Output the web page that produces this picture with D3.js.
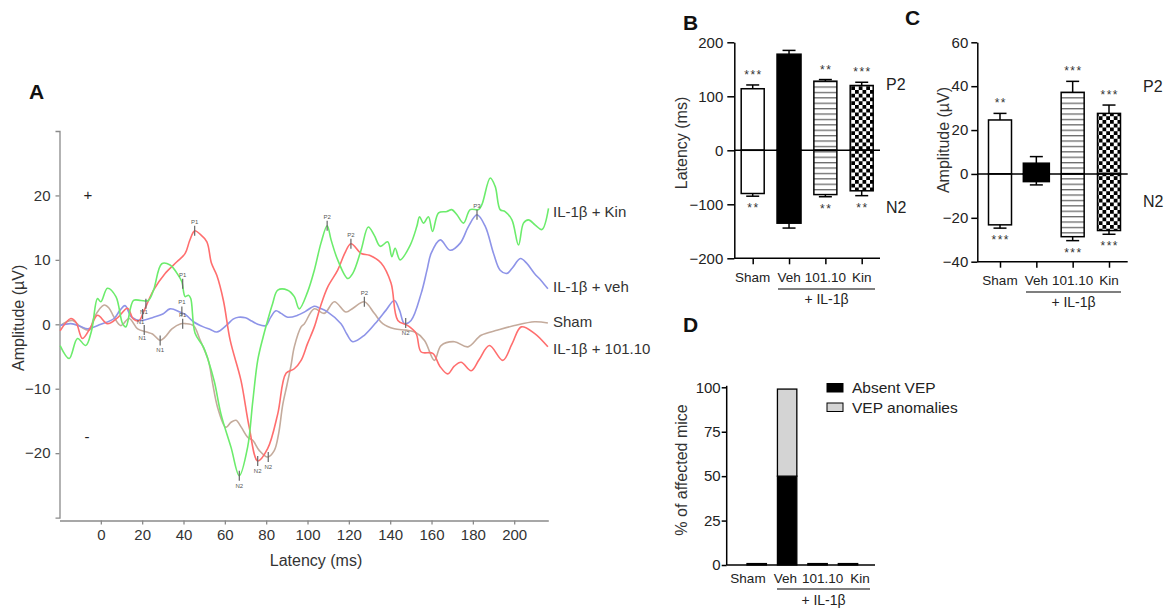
<!DOCTYPE html>
<html><head><meta charset="utf-8">
<script src="https://cdn.jsdelivr.net/npm/d3@7"></script>
<style>body{margin:0;background:#fff} svg{display:block;font-family:"Liberation Sans",Arial,sans-serif}</style>
</head><body><svg id="c" width="1167" height="614"></svg>
<script>
// ---------- Panel A data: VEP traces [latency ms, amplitude µV] ----------
const traceKin = [[-19.7,-3.3],[-15.3,-5.3],[-11.3,-2.2],[-7.3,-3.3],[-4.5,-1],[-1.6,4],[0,3.5],[3.2,5.6],[7.3,4.3],[10.5,0.1],[12.1,-0.4],[15.8,3.7],[19.4,3.7],[23,3.7],[25.5,5.3],[29.5,9.4],[33.5,9.2],[37.5,7.6],[39.2,6.6],[40.8,4.3],[42.4,4.5],[43.5,4],[45.6,-1.4],[49.6,-3.5],[52,-5.6],[55,-9],[58.1,-13.9],[63,-19.1],[67,-23.5],[71,-19.1],[73.5,-12],[75.9,-5.6],[78.5,-2],[80.7,0.6],[83.1,3.2],[85.6,5.3],[90.4,5.3],[93.6,4.3],[96,2.4],[100,5],[103.3,8.4],[106.5,12.6],[109.5,15.3],[111.4,13.1],[114.6,10],[119.5,7.1],[121.9,7.9],[125.9,11.5],[129.4,15.1],[132.3,13.8],[135.2,12.1],[138.8,12.8],[140.8,10.5],[142.4,11.8],[144.8,10],[149.7,12.3],[152.9,15.2],[154.2,16.7],[156.1,15.7],[158.5,16.7],[160.5,14.4],[163.4,17.3],[167.4,17.5],[169.8,17.8],[172.3,17],[175.5,15.7],[178.7,17.8],[182.7,17.8],[184.4,18.6],[188.4,22.7],[190.8,21.4],[193.2,17.8],[195.6,17.5],[198.9,16.2],[202.1,12.3],[204.5,15.7],[206.9,16.2],[210.2,15.4],[213.4,14.7],[216.6,18]];
const traceVeh = [[-19.7,-0.2],[-14.5,0.1],[-10,-0.3],[-6.4,-0.7],[0,0],[6.4,0.9],[9.3,2.2],[11.7,2.9],[14.9,1.1],[19,0.6],[25.5,1.1],[30,1.6],[33.5,2.4],[38.3,1.9],[41,1.5],[44.8,0.4],[49.6,-0.4],[53,-0.8],[56.1,-1.2],[61,-0.1],[64,0.8],[66.6,1.1],[70,1],[73,0.5],[75.9,0],[79.9,-0.2],[82,1],[84.7,2.1],[87.2,1.7],[90.4,1.1],[95.2,1.4],[99,2],[103.3,2.8],[106,2.5],[109.8,1.9],[116.2,0.1],[119,-1.5],[121.9,-2.7],[127.5,-1.7],[134,0.6],[138,2.2],[142,3.7],[144.5,2.2],[146.9,0.1],[150.1,0.6],[155,4.8],[157.8,8.4],[159.8,11],[164.2,13.1],[169,11.5],[173.9,12.6],[177.9,15.2],[182,17],[186,15.2],[190,11],[193.2,8.4],[196.5,7.9],[199,8.7],[203,10.2],[206,9.5],[209.8,7.9],[213,6.8],[216.3,5.5]];
const traceSham = [[-19.7,-0.2],[-13.7,0.6],[-9.7,-0.4],[-5.6,-0.9],[-3.2,1.1],[1.6,3],[4,2.5],[6.4,1.1],[9.7,-0.2],[13.7,0.9],[17.8,-0.7],[22.2,-1.2],[25,-1.5],[28.7,-2.5],[31,-2],[34.4,-0.7],[38.7,0.1],[40.8,0.1],[44.8,-0.2],[48.1,-2.5],[52,-5.6],[54,-9],[56.5,-12.9],[60.5,-16],[63,-15.2],[65.4,-14.9],[68,-16],[71,-17.5],[73.5,-18],[76.7,-19.6],[80.7,-20.6],[83.9,-19.6],[86,-17],[88,-12.5],[90,-9.5],[92,-6.4],[93.6,-3.5],[96.9,-0.4],[98.5,0.1],[103.3,2.4],[108.1,1.7],[113,3.5],[118.6,1.9],[122,2.5],[127.5,3.5],[132.3,1.7],[136.4,0.1],[142,-0.7],[147.7,-0.9],[152,-1.2],[156.6,-2.5],[161.4,-5.6],[164.6,-3.3],[171.1,-2.7],[177.6,-3.5],[184,-1.7],[192.1,-0.9],[200.1,-0.2],[209.8,0.4],[216.3,0.2]];
const trace101 = [[-19.7,-1],[-14.5,0.9],[-12,0.3],[-8.9,-2.2],[-5,-0.5],[-1.6,1.4],[3.2,0.1],[8,1],[12.9,2.5],[15.8,0.8],[18.6,0.6],[20.6,1.9],[25.5,5.3],[31.1,7.9],[36.8,9.7],[40.8,11],[43,13],[45.4,14.5],[48,14],[51.3,12.8],[53.5,9.5],[56.1,7.6],[59.3,3.7],[62.6,-2.5],[67.8,-8.7],[71.8,-16],[75.9,-21.2],[80.7,-19.3],[85.6,-13.9],[89.6,-7.6],[93.6,-6.9],[96.9,-5.6],[100,-3],[103.3,-0.4],[106.5,3],[109.8,5.8],[114.6,8.4],[118,11],[121,12.5],[126,11],[130,10.7],[135.6,9.5],[140.4,6.4],[143.7,0.6],[148.5,-0.2],[152.5,-1.4],[155,-4.3],[160.6,-4.5],[164,-6.5],[167.9,-7.7],[171,-6.5],[174.3,-5.9],[179.2,-7.2],[183,-5.5],[188,-3.3],[194.5,-5.6],[199,-3],[203.4,-0.4],[209.8,-1.4],[216.3,-3.5]];
const traceNames = ["IL-1β + Kin","IL-1β + veh","Sham","IL-1β + 101.10"];
const traceColors = ["#6cec6c","#8e94e8","#c4ab9c","#ff6e6e"];
const traceLabelY = [17.5, 5.8, 0.4, -3.9];
// peak markers [trace index, label, latency, amplitude, label side]
const peakMarks = [
 [3,"P1",45.4,14.5,"a"],[3,"N2",75.9,-21.2,"b"],[3,"P2",121,12.5,"a"],[3,"N1",21.8,3.2,"r"],
 [0,"P1",39.6,6.3,"a"],[0,"N2",67,-23.5,"b"],[0,"P2",109.5,15.3,"a"],[0,"N1",20.2,1.6,"r"],
 [1,"P1",39.2,2.0,"a"],[1,"N2",147.5,0.2,"b"],[1,"P3",182,17,"a"],
 [2,"N1",28.7,-2.5,"b"],[2,"P1",39.6,0.1,"a"],[2,"N2",81,-20.6,"b"],[2,"P2",127.5,3.5,"a"],[2,"N1",21,-0.9,"r"]
];
const xTicksA = [0,20,40,60,80,100,120,140,160,180,200];
const yTicksA = [-20,-10,0,10,20];

// ---------- Panels B, C, D data ----------
const groups = ["Sham","Veh","101.10","Kin"];
const latencyP2 = [114,178,128,120];
const latencyP2Err = [7,7,3,6];
const latencyN2 = [-80,-135,-82,-75];
const latencyN2Err = [5,9,4,9];
const latencyP2Stars = ["***","","**","***"];
const latencyN2Stars = ["**","","**","**"];
const amplitudeP2 = [24.6,4.9,37.2,27.6];
const amplitudeP2Err = [3,3,5,3.8];
const amplitudeN2 = [-23.2,-3.5,-28.6,-25.8];
const amplitudeN2Err = [1.5,1.5,1.8,1.7];
const amplitudeP2Stars = ["**","","***","***"];
const amplitudeN2Stars = ["***","","***","***"];
const absentVEP = [0.8,50,0.8,0.8];
const vepAnomalies = [0,49,0,0];
const legendD = ["Absent VEP","VEP anomalies"];
const ticksB = [-200,-100,0,100,200];
const ticksC = [-40,-20,0,20,40,60];
const ticksD = [0,25,50,75,100];
const groupFills = ["#fff","#000","url(#stripes)","url(#checker)"];

const svg = d3.select("#c");
const defs = svg.append("defs");
const pS = defs.append("pattern").attr("id","stripes").attr("patternUnits","userSpaceOnUse").attr("width",8).attr("height",5.4);
pS.append("rect").attr("width",8).attr("height",5.4).attr("fill","#fff");
pS.append("rect").attr("y",0).attr("width",8).attr("height",1.3).attr("fill","#6a6a6a");
const pC = defs.append("pattern").attr("id","checker").attr("patternUnits","userSpaceOnUse").attr("width",7.5).attr("height",7.5);
pC.append("rect").attr("width",7.5).attr("height",7.5).attr("fill","#fff");
pC.append("rect").attr("width",3.75).attr("height",3.75).attr("fill","#000");
pC.append("rect").attr("x",3.75).attr("y",3.75).attr("width",3.75).attr("height",3.75).attr("fill","#000");

function letter(t,x,y){svg.append("text").attr("x",x).attr("y",y).attr("font-size",21).attr("font-weight","bold").attr("fill","#111").text(t);}

// ================= Panel A =================
const xA = d3.scaleLinear().domain([-20,216.5]).range([59.5,548.3]);
const yA = d3.scaleLinear().domain([-30,30]).range([517.6,131]);
const gA = svg.append("g");
const axA1 = gA.append("g").attr("transform","translate(59.5,0)")
  .call(d3.axisLeft(yA).tickValues(yTicksA).tickSize(4).tickSizeOuter(4).tickPadding(5));
const axA2 = gA.append("g").attr("transform","translate(0,520.5)")
  .call(d3.axisBottom(xA).tickValues(xTicksA).tickSize(4).tickSizeOuter(0).tickPadding(5));
[axA1,axA2].forEach(a=>{a.selectAll("path,line").attr("stroke","#8a8a8a").attr("stroke-width",1.3);
  a.selectAll("text").attr("font-size",15).attr("fill","#333").attr("font-family","Liberation Sans, Arial");});
const line = d3.line().x(d=>xA(d[0])).y(d=>yA(d[1])).curve(d3.curveCatmullRom.alpha(0.5));
const traces = [traceKin,traceVeh,traceSham,trace101];
[2,1,3,0].forEach(i=>{
  gA.append("path").attr("d",line(traces[i])).attr("fill","none").attr("stroke",traceColors[i]).attr("stroke-width",1.6);
});
peakMarks.forEach(m=>{
  const x=xA(m[2]), y=yA(m[3]);
  gA.append("line").attr("x1",x).attr("x2",x).attr("y1",y-5).attr("y2",y+5).attr("stroke","#666").attr("stroke-width",1.2);
  let tx=x, ty=y-7, anc="middle";
  if(m[4]==="b"){ty=y+12;}
  if(m[4]==="r"){tx=x-2; ty=y+10;}
  gA.append("text").attr("x",tx).attr("y",ty).attr("text-anchor",anc).attr("font-size",6).attr("fill","#555").text(m[1]);
});
traceNames.forEach((n,i)=>{
  gA.append("text").attr("x",553).attr("y",yA(traceLabelY[i])+5).attr("font-size",15).attr("fill","#333").text(n);
});
gA.append("text").attr("x",88).attr("y",yA(20)+5).attr("text-anchor","middle").attr("font-size",15).attr("fill","#222").text("+");
gA.append("text").attr("x",87).attr("y",yA(-17.5)+5).attr("text-anchor","middle").attr("font-size",15).attr("fill","#222").text("-");
gA.append("text").attr("transform","translate(24,"+yA(1)+") rotate(-90)").attr("text-anchor","middle").attr("font-size",16).attr("fill","#333").text("Amplitude (µV)");
gA.append("text").attr("x",316).attr("y",566).attr("text-anchor","middle").attr("font-size",16).attr("fill","#333").text("Latency (ms)");
letter("A",29,99);

// ============ helper for bar panels ============
function barPanel(o){
  const g = svg.append("g");
  const x = d3.scalePoint().domain(groups).range(o.xr);
  const y = d3.scaleLinear().domain(o.yd).range(o.yr);
  const bw = o.bw;
  groups.forEach((gname,i)=>{
    const w = groupFills[i]==="#000" ? o.bwBlack : bw;
    [[o.p2,o.p2e],[o.n2,o.n2e]].forEach(([vals,errs])=>{
      const v=vals[i], e=errs[i];
      const y0=y(0), y1=y(v);
      g.append("rect").attr("x",x(gname)-w/2).attr("y",Math.min(y0,y1)).attr("width",w).attr("height",Math.abs(y1-y0))
        .attr("fill",groupFills[i]).attr("stroke","#000").attr("stroke-width",1.5);
      const ye=y(v+(v>=0?e:-e));
      g.append("line").attr("x1",x(gname)).attr("x2",x(gname)).attr("y1",y1).attr("y2",ye).attr("stroke","#000").attr("stroke-width",1.5);
      g.append("line").attr("x1",x(gname)-6.5).attr("x2",x(gname)+6.5).attr("y1",ye).attr("y2",ye).attr("stroke","#000").attr("stroke-width",1.5);
    });
    const sUp=o.p2s[i], sDn=o.n2s[i];
    if(sUp) g.append("text").attr("x",x(gname)+0.8).attr("y",y(o.p2[i]+o.p2e[i])-6).attr("text-anchor","middle").attr("font-size",12).attr("letter-spacing",1.5).attr("fill","#333").text(sUp);
    if(sDn) g.append("text").attr("x",x(gname)+0.8).attr("y",y(o.n2[i]-o.n2e[i])+16).attr("text-anchor","middle").attr("font-size",12).attr("letter-spacing",1.5).attr("fill","#333").text(sDn);
  });
  g.append("line").attr("x1",o.ax).attr("x2",o.xend).attr("y1",y(0)).attr("y2",y(0)).attr("stroke","#000").attr("stroke-width",1.5);
  const ay = g.append("g").attr("transform","translate("+o.ax+",0)").call(d3.axisLeft(y).tickValues(o.ticks).tickSize(o.ts).tickSizeOuter(0).tickPadding(o.tp));
  const axb = g.append("g").attr("transform","translate(0,"+o.yr[0]+")").call(d3.axisBottom(x).tickSize(6).tickSizeOuter(0).tickFormat(""));
  axb.select(".domain").attr("d","M"+o.ax+",0H"+o.xend);
  [ay,axb].forEach(a=>{a.selectAll("path,line").attr("stroke","#000").attr("stroke-width",1.5);
    a.selectAll("text").attr("font-size",15).attr("fill","#222").attr("font-family","Liberation Sans, Arial");});
  groups.forEach(gname=>g.append("text").attr("x",x(gname)).attr("y",o.catY).attr("text-anchor","middle").attr("font-size",13.5).attr("fill","#222").text(gname));
  g.append("line").attr("x1",o.ul[0]).attr("x2",o.ul[1]).attr("y1",o.catY+7).attr("y2",o.catY+7).attr("stroke","#000").attr("stroke-width",1.2);
  g.append("text").attr("x",(o.ul[0]+o.ul[1])/2).attr("y",o.catY+22).attr("text-anchor","middle").attr("font-size",14).attr("fill","#222").text("+ IL-1β");
  g.append("text").attr("transform","translate("+o.labX+","+o.labY+") rotate(-90)").attr("text-anchor","middle").attr("font-size",16).attr("fill","#333").text(o.label);
  g.append("text").attr("x",o.pnX).attr("y",y(o.pY)+6).attr("font-size",16).attr("fill","#222").text("P2");
  g.append("text").attr("x",o.pnX).attr("y",y(o.nY)+6).attr("font-size",16).attr("fill","#222").text("N2");
}

barPanel({xr:[752.7,861.7],yd:[-200,200],yr:[258.3,42.3],bw:23,bwBlack:24,p2:latencyP2,p2e:latencyP2Err,n2:latencyN2,n2e:latencyN2Err,
  p2s:latencyP2Stars,n2s:latencyN2Stars,ax:734.3,xend:880,ticks:ticksB,ts:7,tp:4,catY:282,ul:[778,875],
  labX:687,labY:143,label:"Latency (ms)",pnX:886,pY:123,nY:-105});
letter("B",683,30);
barPanel({xr:[1000,1109],yd:[-40,60],yr:[261.7,42.3],bw:23,bwBlack:26,p2:amplitudeP2,p2e:amplitudeP2Err,n2:amplitudeN2,n2e:amplitudeN2Err,
  p2s:amplitudeP2Stars,n2s:amplitudeN2Stars,ax:977.3,xend:1127.7,ticks:ticksC,ts:6,tp:3,catY:285,ul:[1026,1121],
  labX:948.5,labY:140,label:"Amplitude (µV)",pnX:1143,pY:40.2,nY:-12.2});
letter("C",905,25);

// ================= Panel D =================
const gD = svg.append("g");
const xDbar = d3.scalePoint().domain(groups).range([756.7,848]);
const xDlab = d3.scalePoint().domain(groups).range([748,860]);
const yD = d3.scaleLinear().domain([0,100]).range([565,387.3]);
const stackD = d3.stack().keys([0,1]).value((d,k)=>d[k])(groups.map((g,i)=>[absentVEP[i],vepAnomalies[i]]));
const stackFill = ["#000","#d4d4d4"];
stackD.forEach((layer,k)=>{
  layer.forEach((d,i)=>{
    if(d[1]-d[0]<=0) return;
    gD.append("rect").attr("x",xDbar(groups[i])-9.7).attr("width",19.4).attr("y",yD(d[1])).attr("height",yD(d[0])-yD(d[1]))
      .attr("fill",stackFill[k]).attr("stroke","#000").attr("stroke-width",1.3);
  });
});
const ayD = gD.append("g").attr("transform","translate(726.7,0)").call(d3.axisLeft(yD).tickValues(ticksD).tickSize(5).tickSizeOuter(0).tickPadding(1));
ayD.select(".domain").attr("d","M0,"+(yD(100)-1.5)+"V"+yD(0));
ayD.selectAll("path,line").attr("stroke","#000").attr("stroke-width",1.5);
ayD.selectAll("text").attr("font-size",15).attr("fill","#222").attr("font-family","Liberation Sans, Arial");
gD.append("line").attr("x1",726.7).attr("x2",875).attr("y1",yD(0)).attr("y2",yD(0)).attr("stroke","#000").attr("stroke-width",1.5);
groups.forEach(g=>gD.append("text").attr("x",xDlab(g)).attr("y",583).attr("text-anchor","middle").attr("font-size",13.5).attr("fill","#222").text(g));
gD.append("line").attr("x1",777).attr("x2",870).attr("y1",589).attr("y2",589).attr("stroke","#000").attr("stroke-width",1.2);
gD.append("text").attr("x",823.5).attr("y",605).attr("text-anchor","middle").attr("font-size",14).attr("fill","#222").text("+ IL-1β");
gD.append("text").attr("transform","translate(687,470) rotate(-90)").attr("text-anchor","middle").attr("font-size",16).attr("fill","#333").text("% of affected mice");
legendD.forEach((t,k)=>{
  gD.append("rect").attr("x",827).attr("y",383.5+k*19.5).attr("width",16).attr("height",8.5).attr("fill",stackFill[k]).attr("stroke","#000").attr("stroke-width",1);
  gD.append("text").attr("x",852).attr("y",393+k*19.5).attr("font-size",15.5).attr("fill","#222").text(t);
});
letter("D",683,332);
</script></body></html>
